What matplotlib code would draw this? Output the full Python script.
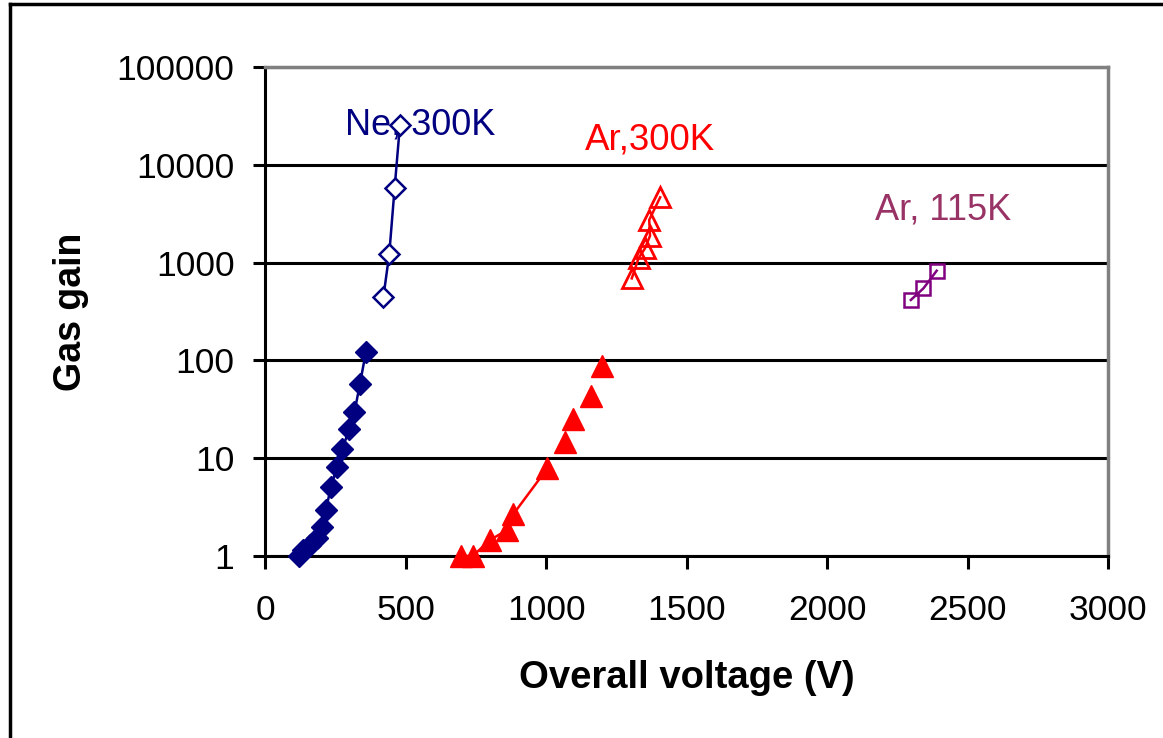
import matplotlib
matplotlib.use("Agg")
import matplotlib.pyplot as plt
from matplotlib.lines import Line2D

plt.rcParams['font.family'] = ['Liberation Sans', 'DejaVu Sans']

# Ne at 300 K, first gain stage (filled diamonds)
ne_lo_v = [122, 136, 160, 184, 204, 216, 235, 256, 275, 299, 318, 338, 359]
ne_lo_g = [1.0, 1.15, 1.3, 1.52, 1.97, 2.95, 5.1, 8.2, 12.4, 19.7, 29.5, 58, 123]
# Ne at 300 K, higher gain (open diamonds)
ne_hi_v = [421, 442, 461, 480]
ne_hi_g = [442, 1225, 5750, 25500]
# Ar at 300 K, first gain stage (filled triangles)
ar_lo_v = [696, 739, 801, 862, 884, 1005, 1066, 1097, 1159, 1200]
ar_lo_g = [1.0, 1.0, 1.46, 1.85, 2.69, 7.9, 14.7, 25, 43, 87]
ar_lo_line_n = 6  # points joined by the connecting line
# Ar at 300 K, higher gain (open triangles)
ar_hi_v = [1305, 1329, 1352, 1370, 1367, 1406]
ar_hi_g = [690, 1107, 1400, 1880, 2730, 4650]
# Ar at 115 K (open squares)
ar_cold_v = [2298, 2343, 2390]
ar_cold_g = [415, 546, 826]

x_ticks = [0, 500, 1000, 1500, 2000, 2500, 3000]
y_ticks = [1, 10, 100, 1000, 10000, 100000]
y_tick_labels = ['1', '10', '100', '1000', '10000', '100000']

NAVY = '#000080'
RED = '#FF0000'
PURPLE = '#800080'
PLUM = '#993366'

fig = plt.figure(figsize=(11.63, 7.38), dpi=100)
fig.patch.set_facecolor('white')
ax = fig.add_axes([0.2279, 0.2466, 0.7249, 0.6626])

ax.set_xscale('linear')
ax.set_yscale('log')
ax.set_xlim(0, 3000)
ax.set_ylim(1, 100000)

# horizontal gridlines at every decade
for g in y_ticks:
    ax.axhline(g, color='black', lw=2.2, zorder=1)

ax.plot(ne_lo_v, ne_lo_g, color=NAVY, lw=1.8, marker='D', ms=11.5,
        mfc=NAVY, mec=NAVY, clip_on=False, zorder=3)
ax.plot(ne_hi_v, ne_hi_g, color=NAVY, lw=1.8, marker='D', ms=10.5,
        mfc='white', mec=NAVY, mew=1.8, clip_on=False, zorder=3)

ax.plot(ar_lo_v[:ar_lo_line_n], ar_lo_g[:ar_lo_line_n], color=RED, lw=1.8,
        clip_on=False, zorder=3)
ax.plot(ar_lo_v, ar_lo_g, ls='none', marker='^', ms=15.5,
        mfc=RED, mec=RED, clip_on=False, zorder=3)
ax.plot(ar_hi_v, ar_hi_g, color=RED, lw=1.8, marker='^', ms=14.5,
        mfc='none', mec=RED, mew=2.0, clip_on=False, zorder=3)

ax.plot(ar_cold_v, ar_cold_g, color=PURPLE, lw=1.8, marker='s', ms=10.5,
        mfc='none', mec=PURPLE, mew=1.8, clip_on=False, zorder=3)

ax.text(285, 25500, 'Ne, 300K', color=NAVY, fontsize=26, va='center', ha='left')
ax.text(1139, 17950, 'Ar,300K', color=RED, fontsize=26.5, va='center', ha='left')
ax.text(2171, 3450, 'Ar, 115K', color=PLUM, fontsize=26, va='center', ha='left')

ax.set_xticks(x_ticks)
ax.set_xticklabels([str(t) for t in x_ticks])
ax.set_yticks(y_ticks)
ax.set_yticklabels(y_tick_labels)
ax.minorticks_off()
ax.tick_params(axis='both', direction='out', length=9, width=2.2,
               labelsize=25.5, color='black')
ax.tick_params(axis='x', pad=18)
ax.tick_params(axis='y', pad=13)

for side in ('left', 'bottom'):
    ax.spines[side].set_color('black')
    ax.spines[side].set_linewidth(2.2)
for side in ('top', 'right'):
    ax.spines[side].set_color('#808080')
    ax.spines[side].set_linewidth(2.5)

ax.set_xlabel('Overall voltage (V)', fontsize=27.5, fontweight='bold', labelpad=24)
ax.set_ylabel('Gas gain', fontsize=27, fontweight='bold', labelpad=20)

# outer chart frame (left and top edges)
fig.add_artist(Line2D([10 / 1163, 10 / 1163], [0, 1 - 4 / 738],
                      transform=fig.transFigure, color='black', lw=2.5))
fig.add_artist(Line2D([10 / 1163, 1], [1 - 4 / 738, 1 - 4 / 738],
                      transform=fig.transFigure, color='black', lw=2.5))

fig.savefig('out.png', dpi=100, facecolor='white')
